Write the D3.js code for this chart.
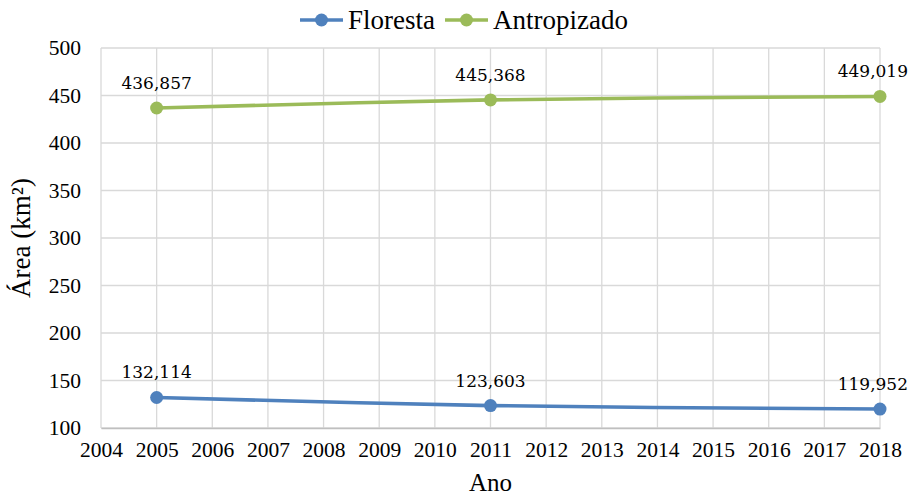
<!DOCTYPE html>
<html>
<head>
<meta charset="utf-8">
<script src="https://cdn.jsdelivr.net/npm/d3@7"></script>
<style>
  html, body { margin: 0; padding: 0; background: #fff; }
  svg { display: block; }
</style>
</head>
<body>
<svg id="chart" width="911" height="497"></svg>
<script>
// Área (km²) por classe de cobertura
const years = [2005, 2011, 2018];
const floresta = [132.114, 123.603, 119.952];
const antropizado = [436.857, 445.368, 449.019];
const seriesNames = ["Floresta", "Antropizado"];
const seriesColors = ["#4f81bd", "#9bbb59"];
const yTicks = [100, 150, 200, 250, 300, 350, 400, 450, 500];
const xTicks = d3.range(2004, 2019);

const svg = d3.select("#chart");
const margin = { left: 101, right: 31, top: 48, bottom: 69 };
const W = 911, H = 497;

const x = d3.scaleLinear().domain([2004, 2018]).range([margin.left, W - margin.right]);
const y = d3.scaleLinear().domain([100, 500]).range([H - margin.bottom, margin.top]);

const serif = "'Liberation Serif', 'Times New Roman', serif";
const labelFont = "'DejaVu Serif', serif";

// grid
const grid = svg.append("g");
grid.selectAll("line.h").data(yTicks).join("line")
  .attr("x1", x(2004)).attr("x2", x(2018))
  .attr("y1", d => y(d)).attr("y2", d => y(d))
  .attr("stroke", "#d9d9d9").attr("stroke-width", 1.3);
grid.selectAll("line.v").data(xTicks).join("line")
  .attr("x1", d => x(d)).attr("x2", d => x(d))
  .attr("y1", y(100)).attr("y2", y(500))
  .attr("stroke", "#d9d9d9").attr("stroke-width", 1.3);

// axes
const xAxis = svg.append("g")
  .attr("transform", `translate(0,${y(100)})`)
  .call(d3.axisBottom(x).tickValues(xTicks).tickFormat(d3.format("d")).tickSize(0).tickPadding(14));
xAxis.select(".domain").attr("stroke", "#bfbfbf").attr("stroke-width", 1.5);
xAxis.selectAll("text").attr("font-family", serif).attr("font-size", 21.5).attr("fill", "#000");

const yAxis = svg.append("g")
  .attr("transform", `translate(${margin.left},0)`)
  .call(d3.axisLeft(y).tickValues(yTicks).tickSize(0).tickPadding(20));
yAxis.select(".domain").remove();
yAxis.selectAll("text").attr("font-family", serif).attr("font-size", 21.5).attr("fill", "#000");

// axis titles
svg.append("text")
  .attr("x", (x(2004) + x(2018)) / 2).attr("y", 491)
  .attr("text-anchor", "middle")
  .attr("font-family", serif).attr("font-size", 25).attr("fill", "#000")
  .text("Ano");
svg.append("text")
  .attr("transform", `translate(30,${(y(100) + y(500)) / 2}) rotate(-90)`)
  .attr("text-anchor", "middle")
  .attr("font-family", serif).attr("font-size", 27).attr("fill", "#000")
  .text("Área (km²)");

// series
const allSeries = [floresta, antropizado];
const line = d3.line().x((d, i) => x(years[i])).y(d => y(d)).curve(d3.curveCatmullRom.alpha(0.5));
const fmt = v => d3.format(".3f")(v).replace(".", ",");

allSeries.forEach((vals, s) => {
  svg.append("path")
    .attr("d", line(vals))
    .attr("fill", "none")
    .attr("stroke", seriesColors[s])
    .attr("stroke-width", 3.6)
    .attr("stroke-linecap", "round");
  svg.selectAll(null).data(vals).join("circle")
    .attr("cx", (d, i) => x(years[i])).attr("cy", d => y(d))
    .attr("r", 6.5).attr("fill", seriesColors[s]);
  svg.selectAll(null).data(vals).join("text")
    .attr("x", (d, i) => i === vals.length - 1 ? x(years[i]) + 28 : x(years[i]))
    .attr("y", d => y(d) - 19)
    .attr("text-anchor", (d, i) => i === vals.length - 1 ? "end" : "middle")
    .attr("font-family", labelFont).attr("font-size", 17).attr("fill", "#000")
    .text(d => fmt(d));
});

// legend
const legend = svg.append("g");
const legendItems = [
  { name: seriesNames[0], color: seriesColors[0], x0: 300, tx: 348 },
  { name: seriesNames[1], color: seriesColors[1], x0: 445, tx: 493 }
];
legendItems.forEach(it => {
  legend.append("line")
    .attr("x1", it.x0).attr("x2", it.x0 + 43)
    .attr("y1", 20).attr("y2", 20)
    .attr("stroke", it.color).attr("stroke-width", 3.6);
  legend.append("circle")
    .attr("cx", it.x0 + 21.5).attr("cy", 20).attr("r", 6.5).attr("fill", it.color);
  legend.append("text")
    .attr("x", it.tx).attr("y", 29)
    .attr("font-family", serif).attr("font-size", 27).attr("fill", "#000")
    .text(it.name);
});
</script>
</body>
</html>
